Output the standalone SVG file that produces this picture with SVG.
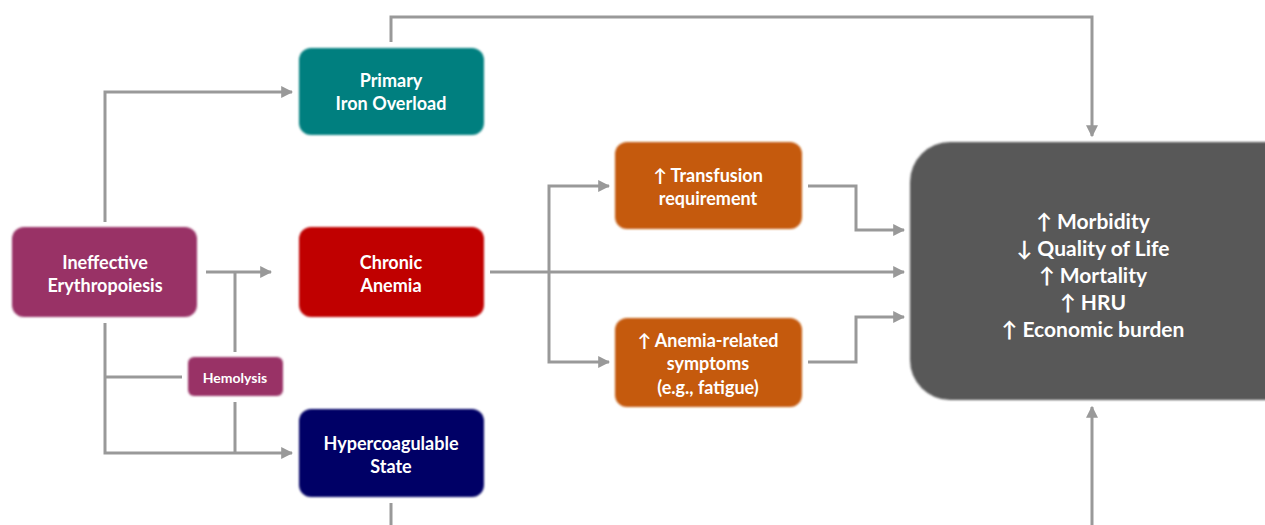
<svg xmlns="http://www.w3.org/2000/svg" width="1265" height="525" viewBox="0 0 1265 525">
<style>
.box{stroke:none;filter:url(#soft)}
.t{font-family:Lato,"Liberation Sans",sans-serif;font-weight:bold;fill:#fff;text-anchor:middle;dominant-baseline:central}
.n{font-size:18px}
.s{font-size:14px}
.b{font-size:21px}
.c{fill:none;stroke:#999;stroke-width:3}
</style>
<defs>
<filter id="soft" x="-5%" y="-5%" width="110%" height="110%"><feGaussianBlur stdDeviation="1.2"/></filter>
<marker id="ah" viewBox="0 0 10 10" refX="9" refY="5" markerWidth="4" markerHeight="4" orient="auto" markerUnits="strokeWidth">
<path d="M0,0 L10,5 L0,10 z" fill="#999"/>
</marker>
</defs>
<rect width="1265" height="525" fill="#fff"/>
<g id="connectors">
<path class="c" d="M105,222 V92 H292" marker-end="url(#ah)"/>
<path class="c" d="M206,272 H271" marker-end="url(#ah)"/>
<path class="c" d="M235,272 V352"/>
<path class="c" d="M105,323 V453 H292" marker-end="url(#ah)"/>
<path class="c" d="M105,377 H182"/>
<path class="c" d="M235,402 V453"/>
<path class="c" d="M391,42 V17 H1092 V136" marker-end="url(#ah)"/>
<path class="c" d="M391,503 V525"/>
<path class="c" d="M1092,525 V407" marker-end="url(#ah)"/>
<path class="c" d="M490,272 H904" marker-end="url(#ah)"/>
<path class="c" d="M549,272 V186 H609" marker-end="url(#ah)"/>
<path class="c" d="M549,272 V362 H609" marker-end="url(#ah)"/>
<path class="c" d="M808,186 H856 V230 H904" marker-end="url(#ah)"/>
<path class="c" d="M808,362 H856 V317 H904" marker-end="url(#ah)"/>
</g>
<g id="ineffective">
<rect class="box" x="12" y="227" width="185" height="90" rx="12" fill="#993366"/>
<text class="t n" x="105" y="262">Ineffective</text>
<text class="t n" x="105" y="285">Erythropoiesis</text>
</g>
<g id="hemolysis">
<rect class="box" x="188" y="357" width="95" height="39" rx="6" fill="#993366"/>
<text class="t s" x="235" y="377">Hemolysis</text>
</g>
<g id="primary">
<rect class="box" x="299" y="48" width="185" height="87" rx="12" fill="#007F7F"/>
<text class="t n" x="391" y="80">Primary</text>
<text class="t n" x="391" y="103">Iron Overload</text>
</g>
<g id="chronic">
<rect class="box" x="299" y="227" width="185" height="90" rx="12" fill="#C00000"/>
<text class="t n" x="391" y="262">Chronic</text>
<text class="t n" x="391" y="285">Anemia</text>
</g>
<g id="hypercoagulable">
<rect class="box" x="299" y="409" width="185" height="88" rx="12" fill="#000066"/>
<text class="t n" x="391" y="443">Hypercoagulable</text>
<text class="t n" x="391" y="466">State</text>
</g>
<g id="transfusion">
<rect class="box" x="615" y="142" width="187" height="87" rx="12" fill="#C55A11"/>
<text class="t n" x="708" y="175">↑ Transfusion</text>
<text class="t n" x="708" y="198">requirement</text>
</g>
<g id="symptoms">
<rect class="box" x="615" y="318" width="187" height="89" rx="12" fill="#C55A11"/>
<text class="t n" x="708" y="340">↑ Anemia-related</text>
<text class="t n" x="708" y="363">symptoms</text>
<text class="t n" x="708" y="387">(e.g., fatigue)</text>
</g>
<g id="outcomes">
<rect class="box" x="910" y="142" width="400" height="258" rx="40" fill="#595959"/>
<text class="t b" x="1093" y="220">↑ Morbidity</text>
<text class="t b" x="1093" y="247">↓ Quality of Life</text>
<text class="t b" x="1093" y="274">↑ Mortality</text>
<text class="t b" x="1093" y="301">↑ HRU</text>
<text class="t b" x="1093" y="328">↑ Economic burden</text>
</g>
</svg>
